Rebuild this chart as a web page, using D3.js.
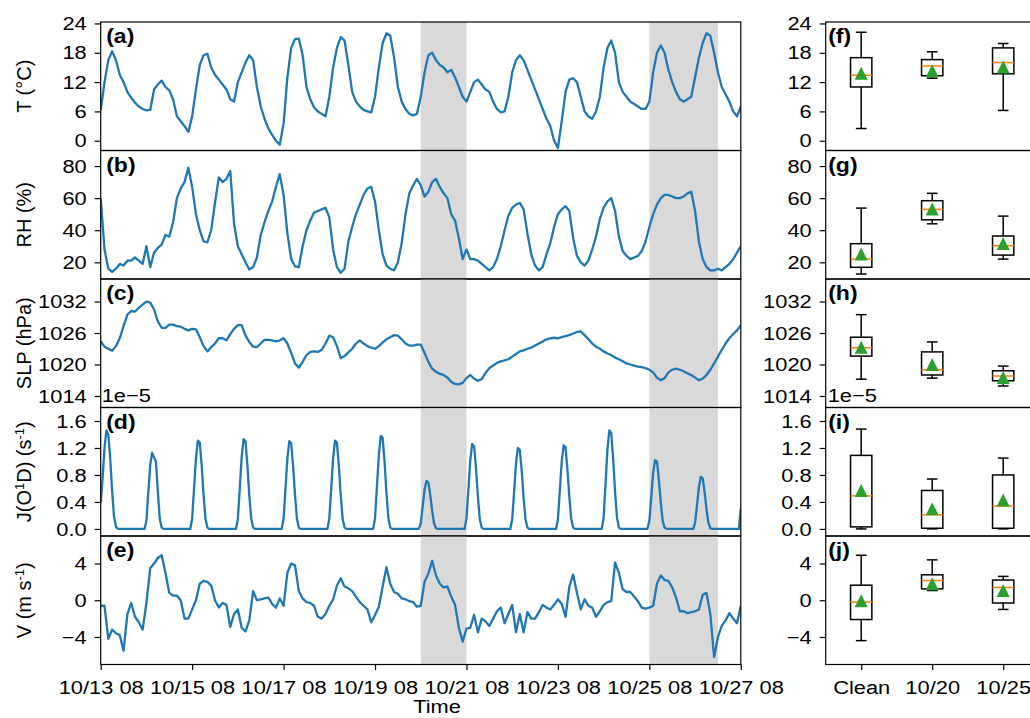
<!DOCTYPE html>
<html>
<head>
<meta charset="utf-8">
<script src="https://cdn.jsdelivr.net/npm/d3@7"></script>
<style>
  body { margin: 0; background: #fff; }
  svg { display: block; font-family: "Liberation Sans", Arial, sans-serif; }
</style>
</head>
<body>
<div id="chart"></div>
<script>
// time series start at 10/13 08:00, one value every 2 h (J every 1 h)
const startTime = new Date(2019, 9, 13, 8);
const endTime = new Date(2019, 9, 27, 8);
const tickDays = [13, 15, 17, 19, 21, 23, 25, 27];
const shadedPeriods = [["2019-10-20 08", "2019-10-21 08"], ["2019-10-25 08", "2019-10-26 20"]];

const temperature = [
  6.2,12,16.5,18.3,16.5,13.5,12,10,8.8,7.8,7,6.5,
  6.2,6.3,10.5,11.5,12.3,11,10.3,8.5,5,4,3,1.8,
  5,10.5,15.5,17.5,17.8,15,13.5,12.5,11.5,10.5,8.5,8,
  12,14,16,17.5,16.5,11,7,4.5,2.5,1.2,0,-0.8,
  3.5,13,19,20.8,20.9,17.5,11,8.5,6.8,6,5.5,5,
  9,15,19,21.2,20.5,15.5,10,8,7,6.3,6,5.8,
  9,15,20,22,21.5,17,11,8,6.5,5.5,5.2,5.5,
  9,14,17.5,18,16.5,15.5,15,14,14.5,13,11,9,
  8,10,12,12.5,11.5,10.5,10,8,6.5,5.8,6,9,
  14,16.5,17.5,16.5,14.5,12.5,10.5,8.5,6.5,4.5,3,0,
  -1.5,4,10,12.5,12.8,12,9,6,5,4.5,6,9,
  15,19,20.5,18,12,10,9,8,7.5,7,6.5,6.5,
  8,14,18,19.5,18,14.5,12,10,8.5,8,8.5,9,
  13,17,20,22,21.5,18,14,11,9.5,8,6,5,7
];

const humidity = [
  60,28,16,14,16,19,18,21,21,23,21,19,
  30,17,26,29,31,37,36,45,60,66,70,79,
  67,50,40,33,32.5,40,57,73,70,72,77,44,
  30,25,20,15.5,17,23,37,45,52,58,67,75,
  62,38,22,17.5,17,30,40,46,51,52,53,54,
  48,28,17,13.5,16,33,42,50,56,62,66,67,
  58,40,25,18,16,15,20,32,50,63,68,72,
  68,61,64,70,72,67,63,60,50,46,35,22,
  28,22,22,21,19,17,15,17,22,30,40,49,
  54,56,57,53,38,25,18,15,17,25,32,42,
  50,53,55,52,35,24,20,18,21,28,36,47,
  54,58,60,52,36,27,24,22,23,24,27,33,
  42,50,56,60,62,62,61,60,60,61,63,64,
  52,33,22,17,15,15,16,15,17,19,22,26,30
];

const pressure = [
  1024.4,1023.4,1023,1022.6,1023.5,1025,1027.3,1029.5,1030.2,1030.1,1030.8,1031.4,
  1032,1031.8,1030.5,1028.2,1027,1027,1027.6,1027.6,1027.3,1027.2,1026.8,1026.5,
  1026.8,1026.7,1025.2,1023.5,1022.5,1023.3,1024,1025,1025,1024.6,1025.8,1026.8,
  1027.5,1027.5,1025.5,1024.3,1023.4,1023.3,1024,1024.7,1024.7,1024.6,1024.4,1024.6,
  1025,1024,1022.2,1020.2,1019.4,1020.5,1021.8,1022.4,1022.5,1022.4,1022.8,1024,
  1025.5,1025.2,1023.5,1021.2,1021.6,1022.3,1023,1024,1024.6,1024,1023.5,1023.2,
  1023,1023.5,1024.2,1024.8,1025.2,1025.6,1025.5,1024.8,1024,1023.6,1023.6,1023.8,
  1023.8,1022.2,1020.5,1019.2,1018.6,1018.2,1018,1017.5,1016.7,1016.3,1016.2,1016.5,
  1017.4,1018,1017.3,1016.9,1017.2,1018.4,1019.3,1019.8,1020.3,1020.6,1020.8,1021,
  1021.5,1022,1022.5,1022.7,1023,1023.2,1023.6,1024,1024.4,1024.8,1025,1025.1,
  1025,1025.2,1025.4,1025.6,1025.9,1026.2,1026.3,1025.6,1024.8,1024,1023.4,1023,
  1022.5,1022.1,1021.8,1021.3,1021,1020.6,1020.2,1020,1019.8,1019.6,1019.5,1019.3,
  1019,1018.5,1017.5,1017,1017.4,1018.5,1019,1019.2,1019,1018.7,1018.3,1018,
  1017.5,1017,1017.3,1018,1019,1020.2,1021.5,1022.8,1024,1025,1025.8,1026.5,1027.5
];

// hourly photolysis rate
const jO1D = [
  0.38,0.75,1.2,1.46,1.4,1.04,0.56,0.18,0.03,0,0,0,0,0,0,0,0,0,0,0,0,0,0,0,
  0.12,0.55,0.95,1.13,1.06,1.0,0.55,0.15,0.02,0,0,0,0,0,0,0,0,0,0,0,0,0,0,0,
  0.15,0.6,1.05,1.31,1.28,0.95,0.5,0.15,0.02,0,0,0,0,0,0,0,0,0,0,0,0,0,0,0,
  0.15,0.6,1.07,1.33,1.3,0.95,0.5,0.15,0.02,0,0,0,0,0,0,0,0,0,0,0,0,0,0,0,
  0.15,0.6,1.05,1.3,1.27,0.93,0.5,0.15,0.02,0,0,0,0,0,0,0,0,0,0,0,0,0,0,0,
  0.15,0.6,1.05,1.31,1.28,0.94,0.5,0.15,0.02,0,0,0,0,0,0,0,0,0,0,0,0,0,0,0,
  0.16,0.63,1.1,1.38,1.35,1.0,0.53,0.16,0.02,0,0,0,0,0,0,0,0,0,0,0,0,0,0,0,
  0.08,0.33,0.58,0.71,0.69,0.5,0.27,0.08,0.01,0,0,0,0,0,0,0,0,0,0,0,0,0,0,0,
  0.15,0.58,1.02,1.26,1.23,0.9,0.48,0.14,0.02,0,0,0,0,0,0,0,0,0,0,0,0,0,0,0,
  0.14,0.55,0.98,1.2,1.17,0.86,0.46,0.14,0.02,0,0,0,0,0,0,0,0,0,0,0,0,0,0,0,
  0.14,0.57,1.0,1.24,1.21,0.88,0.47,0.14,0.02,0,0,0,0,0,0,0,0,0,0,0,0,0,0,0,
  0.17,0.67,1.18,1.46,1.42,1.04,0.55,0.17,0.02,0,0,0,0,0,0,0,0,0,0,0,0,0,0,0,
  0.12,0.47,0.83,1.02,1.0,0.73,0.39,0.12,0.02,0,0,0,0,0,0,0,0,0,0,0,0,0,0,0,
  0.09,0.35,0.62,0.77,0.75,0.55,0.29,0.09,0.01,0,0,0,0,0,0,0,0,0,0,0,0,0,0,0,
  0.3
];

const windV = [
  -0.6,-0.6,-4.2,-3.2,-3.6,-3.8,-5.5,-1.5,-0.3,-1.8,-2.4,-3.2,
  -0.3,3.5,4.0,4.6,4.9,3.0,0.8,0.5,0.5,0,-2,-2,
  -1,0,1.8,2.1,2,1.6,0,-0.8,-0.3,-0.5,-2.9,-1.5,
  -1,-3,-3.4,-2.2,1,0,0.1,0.2,0.3,-0.4,-0.8,0.2,
  -0.6,3,4,3.8,1,0.2,-0.2,-0.3,-0.6,-1.8,-2,-1.5,
  -0.6,0.1,1.6,2.4,1.5,1.3,1,0.4,-0.2,-0.6,-1,-2.4,
  -1.6,-0.7,1.5,3.6,1.8,0.9,0.7,0.2,0.1,-0.1,-0.2,-0.7,
  -0.6,2,2.9,4.3,2.7,1.8,1.4,1.5,0.4,-0.5,-3,-4.5,
  -3.1,-3,-1.6,-3.5,-2,-2.3,-2.8,-2,-1.2,-0.8,-2.5,-1.5,
  -0.5,-3.5,-1.5,-3.5,-1.3,-2,-2,-1.3,-0.5,-0.8,-1,-0.5,
  0.1,-0.4,-1.8,1.5,2.8,0.8,-1,0.1,-0.6,-0.8,-1.8,-1.2,
  -0.5,-0.2,-0.1,4.1,3,1.2,0.9,0.9,0.4,-0.1,-0.8,-0.9,
  -0.8,-0.6,1.8,2.7,2.2,2.1,1.4,0.3,-1.2,-1.2,-1.4,-1.3,
  -1.2,-1,0.6,0.8,-1.5,-6.2,-4,-2.8,-2.2,-1.4,-2,-2.5,-0.6
];

// box plot statistics (whisker low, q1, median, q3, whisker high, mean)
const categories = ["Clean", "10/20", "10/25"];
const boxT = [
  { lo: 2.5, q1: 11.0, med: 13.4, q3: 17.0, hi: 22.2, mean: 13.8 },
  { lo: 12.8, q1: 13.3, med: 15.3, q3: 16.6, hi: 18.2, mean: 14.3 },
  { lo: 6.2, q1: 13.7, med: 16.0, q3: 19.0, hi: 19.9, mean: 15.1 }
];
const boxRH = [
  { lo: 12.7, q1: 16.9, med: 22.1, q3: 31.6, hi: 53.8, mean: 25.2 },
  { lo: 44.0, q1: 46.5, med: 53.0, q3: 58.4, hi: 63.0, mean: 53.2 },
  { lo: 22.0, q1: 24.5, med: 30.3, q3: 36.4, hi: 48.8, mean: 31.8 }
];
const boxSLP = [
  { lo: 1017.2, q1: 1021.6, med: 1023.2, q3: 1025.2, hi: 1029.5, mean: 1023.3 },
  { lo: 1017.4, q1: 1018.0, med: 1019.0, q3: 1022.4, hi: 1024.3, mean: 1020.0 },
  { lo: 1015.9, q1: 1016.9, med: 1017.8, q3: 1018.8, hi: 1019.7, mean: 1017.5 }
];
const boxJ = [
  { lo: 0, q1: 0.03, med: 0.49, q3: 1.09, hi: 1.48, mean: 0.57 },
  { lo: 0, q1: 0.01, med: 0.21, q3: 0.57, hi: 0.74, mean: 0.30 },
  { lo: 0, q1: 0.01, med: 0.34, q3: 0.80, hi: 1.05, mean: 0.43 }
];
const boxV = [
  { lo: -4.4, q1: -2.1, med: -0.2, q3: 1.64, hi: 4.9, mean: -0.05 },
  { lo: 1.06, q1: 1.24, med: 2.15, q3: 2.77, hi: 4.4, mean: 1.8 },
  { lo: -1.0, q1: -0.3, med: 1.39, q3: 2.2, hi: 2.6, mean: 1.05 }
];

const yDomains = [[-2, 24.3], [9.6, 89.7], [1011.8, 1036.3], [-0.105, 1.8], [-7, 7]];
const yTickValues = [[0, 6, 12, 18, 24], [20, 40, 60, 80], [1014, 1020, 1026, 1032], [0, 0.4, 0.8, 1.2, 1.6], [-4, 0, 4]];
const yTickFormats = ["d", "d", "d", ".1f", "d"];
const leftLetters = ["(a)", "(b)", "(c)", "(d)", "(e)"];
const rightLetters = ["(f)", "(g)", "(h)", "(i)", "(j)"];

// ---------------------------------------------------------------
const width = 1030, height = 718;
const SX = 1.15; // text in the picture is a bit wider than tall
const fontSize = 19;
const lineColor = "#1f77b4";

const leftX0 = 100.7, leftX1 = 740.8;
const rightX0 = 825.7, rightX1 = 1038.7;
const plotTop = 22, panelH = 128.5;

const svg = d3.select("#chart").append("svg")
  .attr("width", width).attr("height", height)
  .attr("font-size", fontSize);

svg.append("rect").attr("width", width).attr("height", height).attr("fill", "#fff");

const x = d3.scaleTime().domain([startTime, endTime]).range([leftX0, leftX1]);
const xBox = d3.scalePoint().domain(categories).range([rightX0, rightX1]).padding(0.5);
const boxW = xBox.step() * 0.3;

const times2h = temperature.map((d, i) => d3.timeHour.offset(startTime, 2 * i));
const times1h = jO1D.map((d, i) => d3.timeHour.offset(startTime, i));
const parse = d3.timeParse("%Y-%m-%d %H");

const series = [
  { values: temperature, times: times2h, box: boxT },
  { values: humidity, times: times2h, box: boxRH },
  { values: pressure, times: times2h, box: boxSLP },
  { values: jO1D, times: times1h, box: boxJ },
  { values: windV, times: times2h, box: boxV }
];

function stretchAxisText(g) {
  g.selectAll("text").each(function () {
    const t = d3.select(this);
    const xv = t.attr("x");
    t.attr("transform", `scale(${SX},1)`);
    if (xv != null) t.attr("x", +xv / SX);
  });
}

function label(g, txt, px, py, opts = {}) {
  return g.append("text")
    .attr("transform", `translate(${px},${py}) scale(${SX},1)`)
    .attr("text-anchor", opts.anchor || "start")
    .attr("font-weight", opts.bold ? "bold" : null)
    .attr("font-size", opts.size || fontSize)
    .text(txt);
}

function styleAxis(g) {
  g.select(".domain").remove();
  g.selectAll(".tick line").attr("stroke", "#000").attr("stroke-width", 1.2);
  g.selectAll("text").attr("fill", "#000").attr("font-size", fontSize)
    .attr("font-family", "Liberation Sans, Arial, sans-serif");
  stretchAxisText(g);
}

series.forEach((s, k) => {
  const top = plotTop + k * panelH;
  const bottom = top + panelH;
  const y = d3.scaleLinear().domain(yDomains[k]).range([bottom, top]);
  const fmt = d3.format(yTickFormats[k]);

  // ---------- left: time series ----------
  const clipId = "clip" + k;
  svg.append("clipPath").attr("id", clipId).append("rect")
    .attr("x", leftX0).attr("y", top).attr("width", leftX1 - leftX0).attr("height", panelH);

  const gl = svg.append("g");
  gl.selectAll("rect.shade").data(shadedPeriods).join("rect")
    .attr("class", "shade")
    .attr("x", d => x(parse(d[0])))
    .attr("width", d => x(parse(d[1])) - x(parse(d[0])))
    .attr("y", top).attr("height", panelH)
    .attr("fill", "#d9d9d9");

  gl.append("path")
    .datum(s.values)
    .attr("clip-path", `url(#${clipId})`)
    .attr("fill", "none")
    .attr("stroke", lineColor)
    .attr("stroke-width", 2.3)
    .attr("stroke-linejoin", "round")
    .attr("d", d3.line().x((d, i) => x(s.times[i])).y(d => y(d)));

  gl.append("g").attr("transform", `translate(${leftX0},0)`)
    .call(d3.axisLeft(y).tickValues(yTickValues[k]).tickFormat(fmt).tickSize(6).tickPadding(8))
    .call(styleAxis);

  gl.append("rect").attr("x", leftX0).attr("y", top)
    .attr("width", leftX1 - leftX0).attr("height", panelH)
    .attr("fill", "none").attr("stroke", "#000").attr("stroke-width", 1.2);

  label(gl, leftLetters[k], leftX0 + 5.5, top + 21, { bold: true, size: 20 });

  // ---------- right: box plots ----------
  const gr = svg.append("g");
  const boxes = gr.selectAll("g.box").data(s.box).join("g").attr("class", "box")
    .attr("transform", (d, i) => `translate(${xBox(categories[i])},0)`);

  boxes.append("line").attr("y1", d => y(d.lo)).attr("y2", d => y(d.q1))
    .attr("stroke", "#000").attr("stroke-width", 1.5);
  boxes.append("line").attr("y1", d => y(d.q3)).attr("y2", d => y(d.hi))
    .attr("stroke", "#000").attr("stroke-width", 1.5);
  boxes.append("line").attr("x1", -boxW / 4).attr("x2", boxW / 4)
    .attr("y1", d => y(d.lo)).attr("y2", d => y(d.lo))
    .attr("stroke", "#000").attr("stroke-width", 1.5);
  boxes.append("line").attr("x1", -boxW / 4).attr("x2", boxW / 4)
    .attr("y1", d => y(d.hi)).attr("y2", d => y(d.hi))
    .attr("stroke", "#000").attr("stroke-width", 1.5);
  boxes.append("rect").attr("x", -boxW / 2).attr("width", boxW)
    .attr("y", d => y(d.q3)).attr("height", d => y(d.q1) - y(d.q3))
    .attr("fill", "none").attr("stroke", "#000").attr("stroke-width", 1.5);
  boxes.append("line").attr("x1", -boxW / 2).attr("x2", boxW / 2)
    .attr("y1", d => y(d.med)).attr("y2", d => y(d.med))
    .attr("stroke", "#ff7f0e").attr("stroke-width", 1.5);
  boxes.append("path")
    .attr("d", d => {
      const c = y(d.mean), h = 6.5;
      return `M0,${c - h}L${-h},${c + h}L${h},${c + h}Z`;
    })
    .attr("fill", "#2ca02c");

  gr.append("g").attr("transform", `translate(${rightX0},0)`)
    .call(d3.axisLeft(y).tickValues(yTickValues[k]).tickFormat(fmt).tickSize(6).tickPadding(8))
    .call(styleAxis);

  gr.append("rect").attr("x", rightX0).attr("y", top)
    .attr("width", rightX1 - rightX0).attr("height", panelH)
    .attr("fill", "none").attr("stroke", "#000").attr("stroke-width", 1.2);

  label(gr, rightLetters[k], rightX0 + 2.5, top + 21, { bold: true, size: 20 });

  if (k === 4) {
    gl.append("g").attr("transform", `translate(0,${bottom})`)
      .call(d3.axisBottom(x)
        .tickValues(tickDays.map(d => new Date(2019, 9, d, 8)))
        .tickFormat(d3.timeFormat("%m/%d %H"))
        .tickSize(5.5).tickPadding(10.5))
      .call(styleAxis);
    gr.append("g").attr("transform", `translate(0,${bottom})`)
      .call(d3.axisBottom(xBox).tickSize(5.5).tickPadding(10.5))
      .call(styleAxis);
  }
});

// offset text left over from the J axis
label(svg, "1e\u22125", leftX0 + 1, 401.5);
label(svg, "1e\u22125", rightX0 + 2, 401.5);

// x axis title
label(svg, "Time", 437, 713, { anchor: "middle", size: 19 });

// y axis titles
const yTitles = [
  [["T (°C)", false]],
  [["RH (%)", false]],
  [["SLP (hPa)", false]],
  [["J(O", false], ["1", true], ["D) (s", false], ["-1", true], [")", false]],
  [["V (m s", false], ["-1", true], [")", false]]
];
yTitles.forEach((parts, k) => {
  const cy = plotTop + k * panelH + panelH / 2;
  const t = svg.append("text")
    .attr("transform", `translate(31,${cy}) rotate(-90)`)
    .attr("text-anchor", "middle")
    .attr("font-size", 20);
  let raised = false;
  parts.forEach(([txt, sup]) => {
    const ts = t.append("tspan").text(txt);
    if (sup) { ts.attr("font-size", 13).attr("dy", -7); raised = true; }
    else if (raised) { ts.attr("dy", 7); raised = false; }
  });
});
</script>
</body>
</html>
